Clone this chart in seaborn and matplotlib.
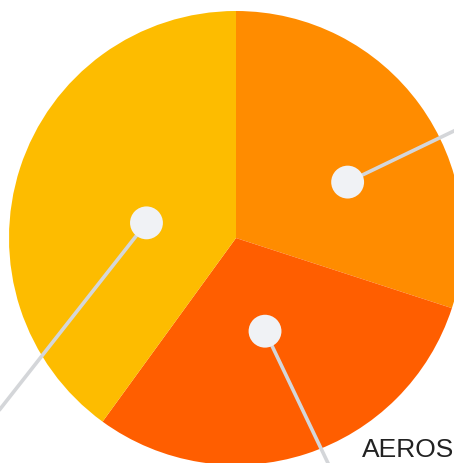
import numpy as np
import matplotlib
matplotlib.use("Agg")
import matplotlib.pyplot as plt
import seaborn as sns

# Share of each sector, clockwise from twelve o'clock
categories = ["", "AEROS", ""]
shares = [30, 30, 40]
colors = ["#FF8C00", "#FF5E00", "#FDBC00"]

# Label anchors: angular nudge from the wedge middle (deg) and radial fraction
anchor_nudge = [-9.4, -0.7, 8.4]
anchor_frac = [0.55, 0.43, 0.40]
# Leader line direction (dx, dy) and length factor for each label
leader_dir = [(106, 51), (63, -132), (-147, -187)]
leader_len = [2.2, 1.5, 1.6]

sns.set_theme(style="white")
plt.rcParams["font.family"] = ["Liberation Sans", "DejaVu Sans"]

W, H, DPI = 454, 463, 100
fig = plt.figure(figsize=(W / DPI, H / DPI), dpi=DPI)
ax = fig.add_axes([0, 0, 1, 1])

R = 227
ax.pie(shares, colors=colors, startangle=90, counterclock=False,
       radius=R, center=(0, 0), frame=True,
       wedgeprops=dict(linewidth=0, antialiased=True))
ax.set_xlim(-236, W - 236)
ax.set_ylim(-(H - 238), 238)
ax.set_aspect("equal")
ax.axis("off")

total = float(sum(shares))
start = 90.0
dots_x, dots_y = [], []
for i, v in enumerate(shares):
    span = v / total * 360.0
    mid = start - span / 2 + anchor_nudge[i]
    start -= span
    r = anchor_frac[i] * R
    x, y = r * np.cos(np.radians(mid)), r * np.sin(np.radians(mid))
    dots_x.append(x)
    dots_y.append(y)
    dx, dy = leader_dir[i]
    ex, ey = x + dx * leader_len[i], y + dy * leader_len[i]
    ax.plot([x, ex], [y, ey], color="#D4D6D9", lw=2.6, solid_capstyle="butt",
            zorder=3, clip_on=False)

sns.scatterplot(x=dots_x, y=dots_y, ax=ax, s=560, color="#F0F2F5",
                edgecolor="none", zorder=4, legend=False)

# Category label for the lower sector
ax.text(126, -219, categories[1], fontsize=19.0, color="#222222",
        ha="left", va="baseline")

fig.savefig("out.png", dpi=DPI)
